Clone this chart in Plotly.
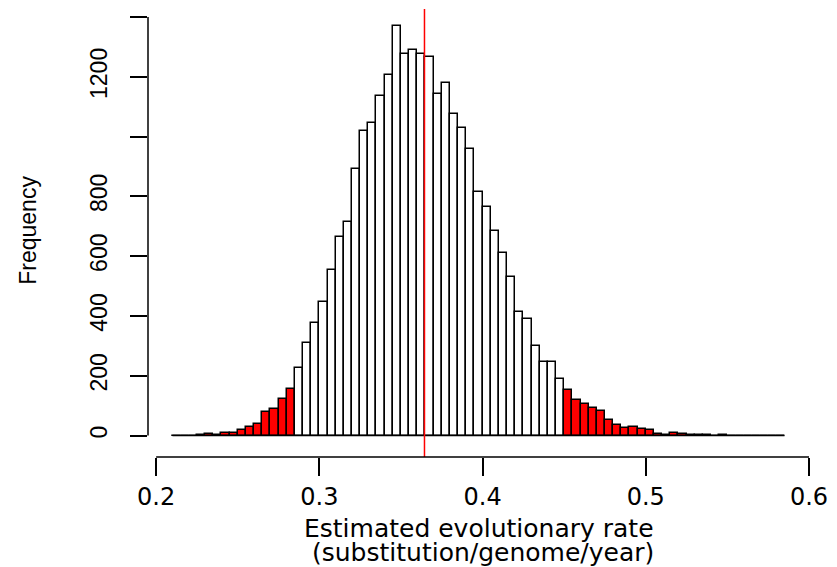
import plotly.graph_objects as go

# Histogram of bootstrap estimates of the evolutionary rate
bin_start = 0.21
bin_width = 0.005
counts = [
    0, 0, 0, 2, 4, 1, 7, 9, 19, 27, 38, 78, 90, 123, 156,
    226, 310, 377, 448, 555, 663, 715, 891, 1020, 1045, 1136, 1205, 1370,
    1277, 1289, 1276, 1267, 1142, 1178, 1076, 1030, 960, 816, 763, 685,
    612, 530, 414, 391, 300, 245, 245, 188,
    153, 118, 104, 93, 82, 51, 36, 26, 29, 23, 19, 6, 2, 7, 4, 1, 1, 3,
    0, 1, 0, 0, 0, 0, 0, 0, 0,
]
# bounds of the central interval; bins outside it are shaded
interval_low = 0.285
interval_high = 0.45
mean_rate = 0.3644

x_ticks = [0.2, 0.3, 0.4, 0.5, 0.6]
x_tick_text = ["0.2", "0.3", "0.4", "0.5", "0.6"]
y_ticks = [0, 200, 400, 600, 800, 1000, 1200, 1400]
y_tick_text = ["0", "200", "400", "600", "800", "", "1200", ""]

x_title_1 = "Estimated evolutionary rate"
x_title_2 = "(substitution/genome/year)"
y_title = "Frequency"

n = len(counts)
lefts = [round(bin_start + i * bin_width, 6) for i in range(n)]
centers = [l + bin_width / 2 for l in lefts]
fills = [
    "#FF0000" if (l + bin_width <= interval_low + 1e-9 or l >= interval_high - 1e-9) else "#FFFFFF"
    for l in lefts
]

fig = go.Figure()
fig.add_trace(go.Bar(
    x=centers, y=counts, width=bin_width,
    marker=dict(color=fills, line=dict(color="#000000", width=1.5)),
    showlegend=False, hoverinfo="x+y",
))

shapes = [
    # baseline under the whole set of bins (empty bins included)
    dict(type="line", xref="x", yref="y", x0=lefts[0], x1=lefts[-1] + bin_width,
         y0=0, y1=0, line=dict(color="#000000", width=1.5)),
    # mean estimate
    dict(type="line", xref="x", yref="paper", x0=mean_rate, x1=mean_rate,
         y0=0, y1=1, line=dict(color="#FF0000", width=1.5)),
    # axis lines spanning first to last tick
    dict(type="line", xref="x", yref="paper", x0=x_ticks[0], x1=x_ticks[-1],
         y0=0, y1=0, line=dict(color="#000000", width=1.5)),
    dict(type="line", xref="paper", yref="y", x0=0, x1=0,
         y0=y_ticks[0], y1=y_ticks[-1], line=dict(color="#000000", width=1.5)),
]

annotations = [
    dict(text=x_title_1, xref="paper", yref="paper", x=0.5, y=0, yshift=-71.4,
         xanchor="center", yanchor="middle", showarrow=False,
         font=dict(family="DejaVu Sans", size=25, color="#000000")),
    dict(text=x_title_2, xref="paper", yref="paper", x=0.5, xshift=4, y=0, yshift=-95.9,
         xanchor="center", yanchor="middle", showarrow=False,
         font=dict(family="DejaVu Sans", size=25, color="#000000")),
    dict(text=y_title, xref="paper", yref="paper", x=0, xshift=-120, y=0.505,
         xanchor="center", yanchor="middle", textangle=-90, showarrow=False,
         font=dict(family="Liberation Sans", size=23, color="#000000")),
]

fig.update_layout(
    width=837, height=567,
    margin=dict(l=148, r=25, t=9, b=110, pad=0),
    paper_bgcolor="#FFFFFF", plot_bgcolor="#FFFFFF",
    bargap=0, shapes=shapes, annotations=annotations,
)
fig.update_xaxes(
    range=[0.195, 0.6], showgrid=False, zeroline=False, showline=False,
    tickmode="array", tickvals=x_ticks, ticktext=x_tick_text,
    ticks="outside", ticklen=18, tickwidth=1.5, tickcolor="#000000",
    ticklabelstandoff=0,
    tickfont=dict(family="DejaVu Sans", size=24, color="#000000"),
)
fig.update_yaxes(
    range=[-71.9, 1426.9], showgrid=False, zeroline=False, showline=False,
    tickmode="array", tickvals=y_ticks, ticktext=y_tick_text,
    ticks="outside", ticklen=17, tickwidth=1.5, tickcolor="#000000",
    tickangle=-90, ticklabelstandoff=14,
    tickfont=dict(family="Liberation Sans", size=23, color="#000000"),
)

fig.write_html("out.html")
